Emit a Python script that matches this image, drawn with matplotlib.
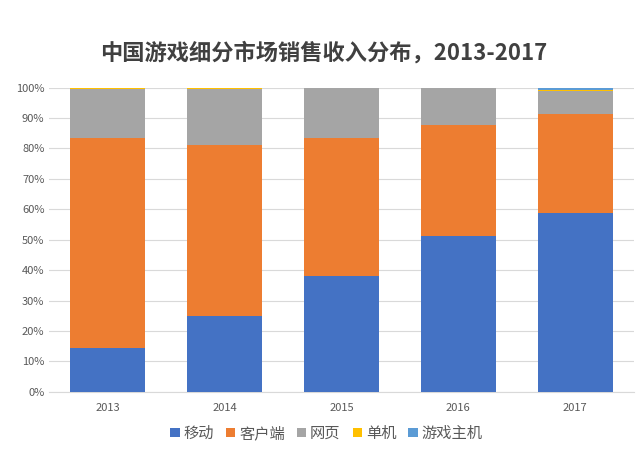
import numpy as np
import matplotlib
matplotlib.use('Agg')
import matplotlib.pyplot as plt
from matplotlib.ticker import PercentFormatter

plt.rcParams['font.family'] = ['Noto Sans CJK SC', 'DejaVu Sans']

years = ['2013', '2014', '2015', '2016', '2017']
series = ['移动', '客户端', '网页', '单机', '游戏主机']
mobile = [14.4, 25.1, 38.1, 51.2, 58.8]
client = [69.0, 56.0, 45.2, 36.4, 32.5]
web = [16.2, 18.5, 16.5, 12.2, 7.6]
single = [0.4, 0.4, 0.2, 0.2, 0.3]
console = [0.0, 0.0, 0.0, 0.0, 0.8]
colors = ['#4472C4', '#ED7D31', '#A5A5A5', '#FFC000', '#5B9BD5']

fig = plt.figure(figsize=(6.4, 4.66), dpi=100)
ax = fig.add_axes([0.077, 0.159, 0.913, 0.653])

x = np.arange(len(years))
bottom = np.zeros(len(years))
for name, vals, c in zip(series, [mobile, client, web, single, console], colors):
    ax.bar(x, vals, 0.64, bottom=bottom, color=c, label=name, zorder=3)
    bottom += np.array(vals)

ax.set_ylim(0, 100)
ax.set_xlim(-0.5, 4.5)
ax.set_yticks(range(0, 101, 10))
ax.yaxis.set_major_formatter(PercentFormatter(decimals=0))
ax.set_xticks(x)
ax.set_xticklabels(years)
ax.grid(axis='y', color='#D9D9D9', linewidth=0.8, zorder=0)
for s in ['top', 'right', 'left']:
    ax.spines[s].set_visible(False)
ax.spines['bottom'].set_color('#D9D9D9')
ax.tick_params(axis='both', length=0, colors='#595959', labelsize=8)
ax.tick_params(axis='x', pad=8)

fig.suptitle('中国游戏细分市场销售收入分布，2013-2017', x=0.505, y=0.91,
             fontsize=16, fontweight='bold', color='#404040')
fig.legend(loc='center', bbox_to_anchor=(0.51, 0.07), ncol=5, frameon=False,
           fontsize=11, handlelength=0.6, handleheight=0.6, handletextpad=0.25,
           columnspacing=0.8, labelcolor='#595959')

plt.savefig('out.png', dpi=100)
